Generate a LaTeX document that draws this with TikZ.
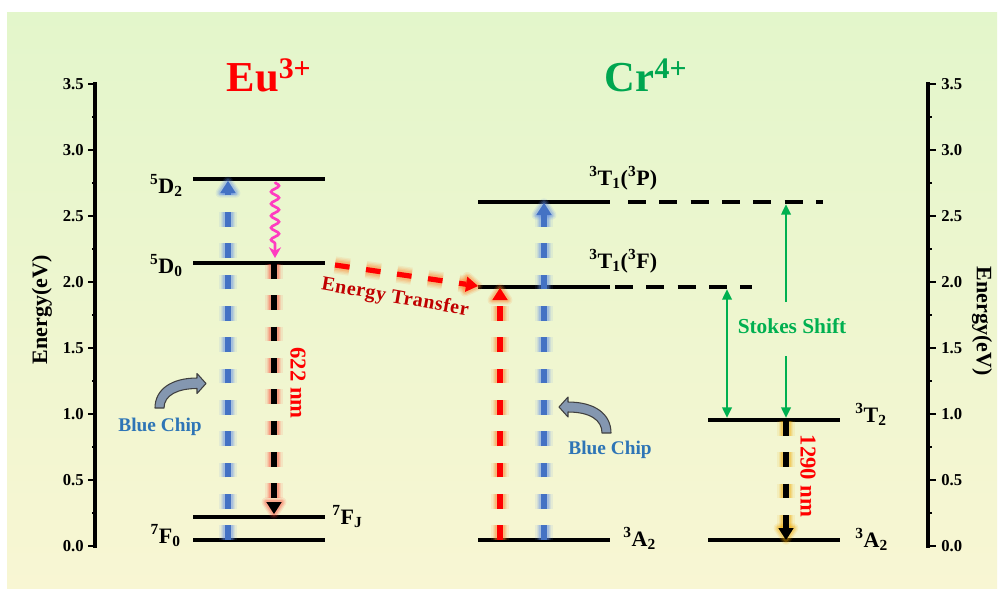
\documentclass[tikz,border=0pt]{standalone}
\usepackage{fontspec}
\setmainfont{Liberation Serif}
\usetikzlibrary{arrows.meta,calc,decorations.pathmorphing}

\definecolor{bgtop}{HTML}{E3F6CB}
\definecolor{bgbot}{HTML}{F8F6D3}
\definecolor{eured}{HTML}{FF0000}
\definecolor{crgreen}{HTML}{00A650}
\definecolor{stokes}{HTML}{00B050}
\definecolor{chipblue}{HTML}{2E75B6}
\definecolor{blcore}{HTML}{4472C4}
\definecolor{blglow}{HTML}{5F8CEB}
\definecolor{rdglow}{HTML}{FF4A3A}
\definecolor{orglow}{HTML}{FF8028}
\definecolor{ylglow}{HTML}{F0A800}
\definecolor{etred}{HTML}{C00000}
\definecolor{wavepink}{HTML}{FF3CC0}
\definecolor{chipfill}{HTML}{8497B0}

\tikzset{
  level/.style={line width=3pt},
  dlevel/.style={line width=3pt, dash pattern=on 13.5pt off 10pt},
  axisline/.style={line width=3pt, line cap=rect},
  tickline/.style={line width=2.2pt},
  lbl/.style={font=\fontsize{16.5}{17}\selectfont\bfseries, inner sep=0pt},
  ticklbl/.style={font=\fontsize{12.5}{13}\selectfont\bfseries, inner sep=0pt},
  axtitle/.style={font=\fontsize{16.5}{17}\selectfont\bfseries, inner sep=0pt},
  chiplbl/.style={font=\fontsize{14.5}{15}\selectfont\bfseries, text=chipblue, inner sep=0pt},
  nmlbl/.style={font=\fontsize{17}{17}\selectfont\bfseries, text=eured, inner sep=0pt, rotate=-90},
  dashpat/.style={dash pattern=on 11pt off 12.5pt},
  greenarrow/.style={stokes, line width=1.9pt},
  gtip/.tip={Triangle[length=8pt,width=7pt]},
  chiparrow/.style={fill=chipfill, draw=black!75, line width=0.8pt, line join=round},
}

% #1 start, #2 tip, #3 core colour, #4 glow colour
\newcommand\glowarrow[4]{%
  \coordinate (gb) at ($(#2)!9pt!(#1)$);
  \coordinate (gl) at ($(gb)!5.8pt!90:(#2)$);
  \coordinate (gr) at ($(gb)!5.8pt!-90:(#2)$);
  \foreach \w/\o in {13pt/.10,11pt/.13,9pt/.17,7pt/.24}{
    \draw[#4, opacity=\o, line width=\w, dashpat] (#1) -- (gb);
  }
  \foreach \w/\o in {7pt/.12,5pt/.18,3pt/.25}{
    \filldraw[#4, opacity=\o, line width=\w, line join=round] (#2) -- (gl) -- (gr) -- cycle;
  }
  \draw[#3, line width=3.9pt, dashpat] (#1) -- (gb);
  \fill[#3] (#2) -- (gl) -- (gr) -- cycle;
}

\begin{document}
\begin{tikzpicture}[x=0.75pt,y=-0.75pt]
\useasboundingbox (0,0) rectangle (1005,590);
\fill[white] (0,0) rectangle (1005,590);
\shade[top color=bgtop, bottom color=bgbot] (7,12) rectangle (997,588);

% ---------- axes ----------
\draw[axisline] (95,84) -- (95,546);
\draw[axisline] (928,84) -- (928,546);
\foreach \i/\t in {0/0.0,1/0.5,2/1.0,3/1.5,4/2.0,5/2.5,6/3.0,7/3.5}{
  \pgfmathsetmacro\yy{546-66*\i}
  \draw[tickline] (88,\yy) -- (95,\yy);
  \draw[tickline] (928,\yy) -- (936,\yy);
  \node[ticklbl, anchor=east] (tl\i) at (84,\yy) {\t};
  \node[ticklbl, anchor=west] (tr\i) at (941,\yy) {\t};
}
\foreach \i in {0,...,6}{
  \pgfmathsetmacro\yy{546-66*\i-33}
  \draw[tickline] (92,\yy) -- (95,\yy);
  \draw[tickline] (928,\yy) -- (932,\yy);
}
\node[axtitle, rotate=90] (ytl) at (42,310) {Energy(eV)};
\node[axtitle, rotate=-90] (ytr) at (982,321) {Energy(eV)};

% ---------- titles ----------
\node[font=\fontsize{32}{32}\selectfont\bfseries, text=eured, anchor=base, inner sep=0pt] (eu) at (269,91) {Eu\textsuperscript{3+}};
\node[font=\fontsize{32}{32}\selectfont\bfseries, text=crgreen, anchor=base, inner sep=0pt] (cr) at (646,91) {Cr\textsuperscript{4+}};

% ---------- levels ----------
\coordinate (d2L) at (193,179); \coordinate (d2R) at (325,179);
\coordinate (d0L) at (193,263); \coordinate (d0R) at (325,263);
\coordinate (fjL) at (193,517); \coordinate (fjR) at (325,517);
\coordinate (f0L) at (193,540); \coordinate (f0R) at (325,540);
\coordinate (tpL) at (478,202); \coordinate (tpR) at (610,202);
\coordinate (tfL) at (478,287); \coordinate (tfR) at (610,287);
\coordinate (amL) at (478,540); \coordinate (amR) at (610,540);
\coordinate (t2L) at (708,420); \coordinate (t2R) at (840,420);
\coordinate (arL) at (708,540); \coordinate (arR) at (840,540);
\coordinate (tpD0) at (628,202); \coordinate (tpD1) at (823,202);
\coordinate (tfD0) at (615,287); \coordinate (tfD1) at (752,287);

\foreach \a/\b in {d2L/d2R,d0L/d0R,fjL/fjR,f0L/f0R,tpL/tpR,tfL/tfR,amL/amR,t2L/t2R,arL/arR}
  \draw[level] (\a) -- (\b);
\draw[dlevel] (tpD0) -- (tpD1);
\draw[dlevel] (tfD0) -- (tfD1);

% ---------- level labels ----------
\node[lbl, anchor=base east] (l5d2) at (183,193) {\textsuperscript{5}D\textsubscript{2}};
\node[lbl, anchor=base east] (l5d0) at (183,273) {\textsuperscript{5}D\textsubscript{0}};
\node[lbl, anchor=base east] (l7f0) at (181,543) {\textsuperscript{7}F\textsubscript{0}};
\node[lbl, anchor=base west] (l7fj) at (332,524) {\textsuperscript{7}F\textsubscript{J}};
\node[lbl, anchor=base west] (l3tp) at (589,185) {\textsuperscript{3}T\textsubscript{1}(\textsuperscript{3}P)};
\node[lbl, anchor=base west] (l3tf) at (589,268) {\textsuperscript{3}T\textsubscript{1}(\textsuperscript{3}F)};
\node[lbl, anchor=base west] (l3am) at (623,546) {\textsuperscript{3}A\textsubscript{2}};
\node[lbl, anchor=base west] (l3t2) at (855,422) {\textsuperscript{3}T\textsubscript{2}};
\node[lbl, anchor=base west] (l3ar) at (855,547) {\textsuperscript{3}A\textsubscript{2}};

% ---------- transitions ----------
\coordinate (bL0) at (228,540); \coordinate (bL1) at (228,181);
\coordinate (w0) at (275,182);  \coordinate (w1) at (275,258);
\coordinate (r0) at (274,264);  \coordinate (r1) at (274,514);
\coordinate (e0) at (335,265);  \coordinate (e1) at (478,286);
\coordinate (ru0) at (500,540); \coordinate (ru1) at (500,288);
\coordinate (bm0) at (544,540); \coordinate (bm1) at (544,203);
\coordinate (y0) at (786,421);  \coordinate (y1) at (786,540);

\glowarrow{bL0}{bL1}{blcore}{blglow}
\glowarrow{r0}{r1}{black}{rdglow}
\glowarrow{e0}{e1}{eured}{orglow}
\glowarrow{ru0}{ru1}{eured}{orglow}
\glowarrow{bm0}{bm1}{blcore}{blglow}
\glowarrow{y0}{y1}{black}{ylglow}

\draw[wavepink, line width=2pt, decorate,
      decoration={snake, amplitude=3pt, segment length=9pt, post length=7pt},
      -{Stealth[length=8pt,width=9pt]}] (w0) -- (w1);

% Stokes shift
\coordinate (g1a) at (727,289); \coordinate (g1b) at (727,418);
\coordinate (g2t) at (786,204); \coordinate (g2a) at (786,302);
\coordinate (g2b) at (786,356); \coordinate (g2d) at (786,418);
\draw[greenarrow, gtip-gtip] (g1a) -- (g1b);
\draw[greenarrow, -gtip] (g2a) -- (g2t);
\draw[greenarrow, -gtip] (g2b) -- (g2d);
\node[font=\fontsize{16}{16}\selectfont\bfseries, text=stokes, inner sep=0pt] (ss) at (792,326) {Stokes Shift};

% labels on transitions
\node[nmlbl] (n622) at (298,383) {622 nm};
\node[nmlbl] (n1290) at (808,476) {1290 nm};
\node[font=\fontsize{15}{15}\selectfont\bfseries\addfontfeature{LetterSpace=3}, text=etred, rotate=-10, inner sep=0pt] (et) at (395,298) {Energy Transfer};

% blue chip labels and curved arrows
\node[chiplbl] (bc1) at (160,427) {Blue Chip};
\node[chiplbl] (bc2) at (610,450) {Blue Chip};
\filldraw[chiparrow] (155,408) .. controls (155,389) and (172,378) .. (197,378)
  -- (197,373.5) -- (206,383.5) -- (197,393.5) -- (197,388.5)
  .. controls (178,388.5) and (164,395) .. (164,408) -- cycle;
\filldraw[chiparrow] (559,407) -- (568,397) -- (568,402)
  .. controls (595,402) and (611,414) .. (611,433) -- (602,433)
  .. controls (602,420) and (590,412) .. (568,412) -- (568,417) -- cycle;
\end{tikzpicture}
\end{document}
